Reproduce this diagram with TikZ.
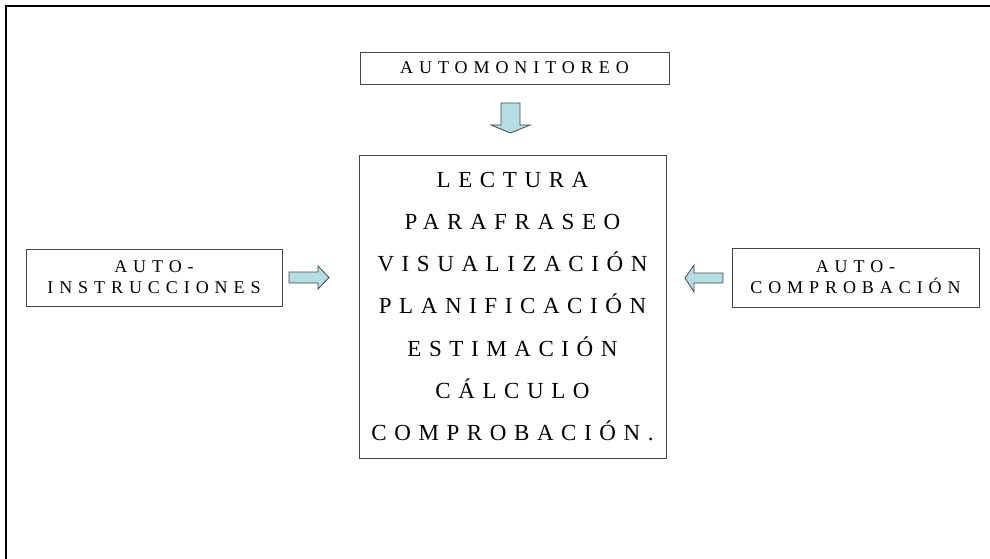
\documentclass[tikz,border=0pt]{standalone}
\usepackage{fontspec}
\setmainfont{Liberation Serif}
\newfontfamily\spacedfont[LetterSpace=33]{Liberation Serif}
\usetikzlibrary{positioning}
\definecolor{arrowblue}{RGB}{183,221,228}
\definecolor{boxgray}{RGB}{70,70,70}

\begin{document}
\begin{tikzpicture}[x=1pt,y=-1pt,
    box/.style={draw=boxgray,line width=1pt,inner sep=0pt,align=center},
    blockarrow/.style={fill=arrowblue,draw=boxgray,line width=0.8pt,line join=miter}]
                \useasboundingbox (0,0) rectangle (990,558);
                \draw[line width=2pt] (6,565) -- (6,6) -- (995,6);
                \node[box,minimum width=309pt,minimum height=32pt,font=\spacedfont\fontsize{18}{21}\selectfont](mon)at(514.5,68){AUTOMONITOREO};
                \node[box,minimum width=307pt,minimum height=303pt,font=\spacedfont\fontsize{23}{42.2}\selectfont](main)at(512.5,306.5){LECTURA\\PARAFRASEO\\VISUALIZACIÓN\\PLANIFICACIÓN\\ESTIMACIÓN\\CÁLCULO\\COMPROBACIÓN.};
                \node[box,minimum width=256pt,minimum height=57pt,font=\spacedfont\fontsize{18}{21}\selectfont](instr)at(154,277.5){AUTO-\\INSTRUCCIONES};
                \node[box,minimum width=247pt,minimum height=59pt,font=\spacedfont\fontsize{18}{21}\selectfont](compr)at(855.5,277.5){AUTO-\\COMPROBACIÓN};
                \draw[blockarrow] (501,103) -- (520,103) -- (520,125) -- (530,125) -- (510.5,133) -- (491,125) -- (501,125) -- cycle;
                \draw[blockarrow] (289,272) -- (318,272) -- (318,266) -- (329,277.5) -- (318,289) -- (318,283) -- (289,283) -- cycle;
                \draw[blockarrow] (723,273) -- (694,273) -- (694,265) -- (685,278) -- (694,292) -- (694,283) -- (723,283) -- cycle;
            \end{tikzpicture}
\end{document}
